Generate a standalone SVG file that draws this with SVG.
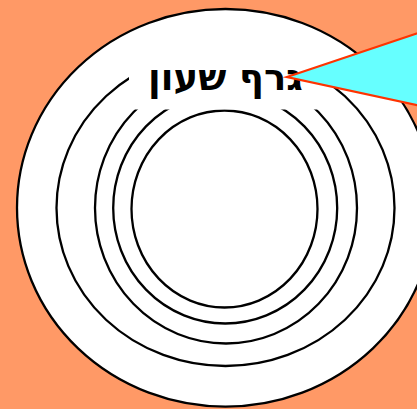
<svg xmlns="http://www.w3.org/2000/svg" width="417" height="409" viewBox="0 0 417 409">
<style>
.ring{fill:none;stroke:#000;stroke-width:2.3}
.title{font-family:"DejaVu Sans","Noto Sans",sans-serif;font-weight:bold;font-size:37px;fill:#000;text-anchor:middle}
</style>
<rect x="0" y="0" width="417" height="409" fill="#FF9966"/>
<g id="face">
<ellipse cx="225.5" cy="207.8" rx="208.5" ry="198.8" fill="#fff" stroke="#000" stroke-width="2.3"/>
</g>
<g id="rings">
<ellipse class="ring" cx="225.5" cy="208" rx="169" ry="158"/>
<ellipse class="ring" cx="226" cy="208" rx="131" ry="135.5"/>
<ellipse class="ring" cx="225.2" cy="208" rx="112" ry="115.5"/>
<ellipse class="ring" cx="224.5" cy="209" rx="93" ry="98.5"/>
</g>
<g id="label">
<rect x="129" y="40" width="192" height="69.5" fill="#fff"/>
<text class="title" x="225.5" y="90">גרף שעון</text>
</g>
<g id="pointer">
<polygon points="287,77 430,29 430,108" fill="#66FFFF" stroke="#FF3300" stroke-width="2.3"/>
</g>
</svg>
